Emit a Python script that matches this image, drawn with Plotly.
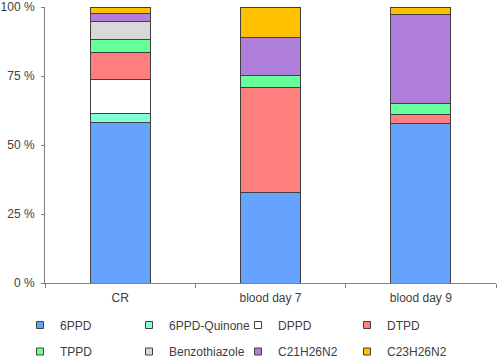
import plotly.graph_objects as go

categories = ["CR", "blood day 7", "blood day 9"]
series_names = ["6PPD", "6PPD-Quinone", "DPPD", "DTPD", "TPPD",
                "Benzothiazole", "C21H26N2", "C23H26N2"]
v_6ppd = [58.1, 32.9, 57.7]
v_6ppdq = [3.4, 0, 0]
v_dppd = [12.1, 0, 0]
v_dtpd = [10.0, 38.0, 3.4]
v_tppd = [4.7, 4.4, 3.8]
v_benzo = [6.5, 0, 0]
v_c21 = [2.9, 13.8, 32.3]
v_c23 = [2.3, 10.9, 2.8]
series_values = [v_6ppd, v_6ppdq, v_dppd, v_dtpd, v_tppd, v_benzo, v_c21, v_c23]
colors = ["#66a3ff", "#80ffd9", "#ffffff", "#ff7f7f", "#66ff99",
          "#d9d9d9", "#b07fdb", "#ffc000"]
y_tickvals = [0, 25, 50, 75, 100]
y_ticktext = ["0 %", "25 %", "50 %", "75 %", "100 %"]

EDGE = "#404040"
fig = go.Figure()
for name, vals, col in zip(series_names, series_values, colors):
    fig.add_trace(go.Bar(
        x=categories, y=vals, name=name, showlegend=False,
        marker=dict(color=col, line=dict(color=EDGE, width=1)),
        width=0.4,
    ))
# legend entries (small square swatches), split over two rows
for i, (name, col) in enumerate(zip(series_names, colors)):
    fig.add_trace(go.Scatter(
        x=[None], y=[None], mode="markers", name=name,
        marker=dict(symbol="square", size=7, color=col, line=dict(color=EDGE, width=1)),
        legend="legend" if i < 4 else "legend2",
        showlegend=True,
    ))

leg_common = dict(
    orientation="h", xref="container", yref="container",
    x=20 / 498, xanchor="left", yanchor="middle",
    entrywidth=64, entrywidthmode="pixels",
    font=dict(size=12, color="#404040"),
    traceorder="normal", bgcolor="rgba(0,0,0,0)",
)
fig.update_layout(
    barmode="stack",
    width=498, height=359,
    margin=dict(l=45, r=2, t=7, b=76, autoexpand=False),
    plot_bgcolor="white", paper_bgcolor="white",
    font=dict(family="Liberation Sans, Arial, sans-serif", size=12, color="#404040"),
    showlegend=True,
    legend=dict(leg_common, y=1 - 325 / 359),
    legend2=dict(leg_common, y=1 - 351.5 / 359),
)
fig.update_xaxes(
    showline=True, linecolor="#808080", linewidth=1,
    ticks="outside", tickson="boundaries", ticklen=4, tickcolor="#808080",
    showgrid=False, automargin=False, ticklabelstandoff=4,
)
fig.update_yaxes(
    range=[0, 100], tickvals=y_tickvals, ticktext=y_ticktext,
    showline=True, linecolor="#808080", linewidth=1,
    ticks="outside", ticklen=3, tickcolor="#808080",
    showgrid=False, zeroline=False, automargin=False, ticklabelstandoff=4,
)

fig.write_html("out.html", config={"displayModeBar": False},
               post_script="document.body.style.margin='0';")
